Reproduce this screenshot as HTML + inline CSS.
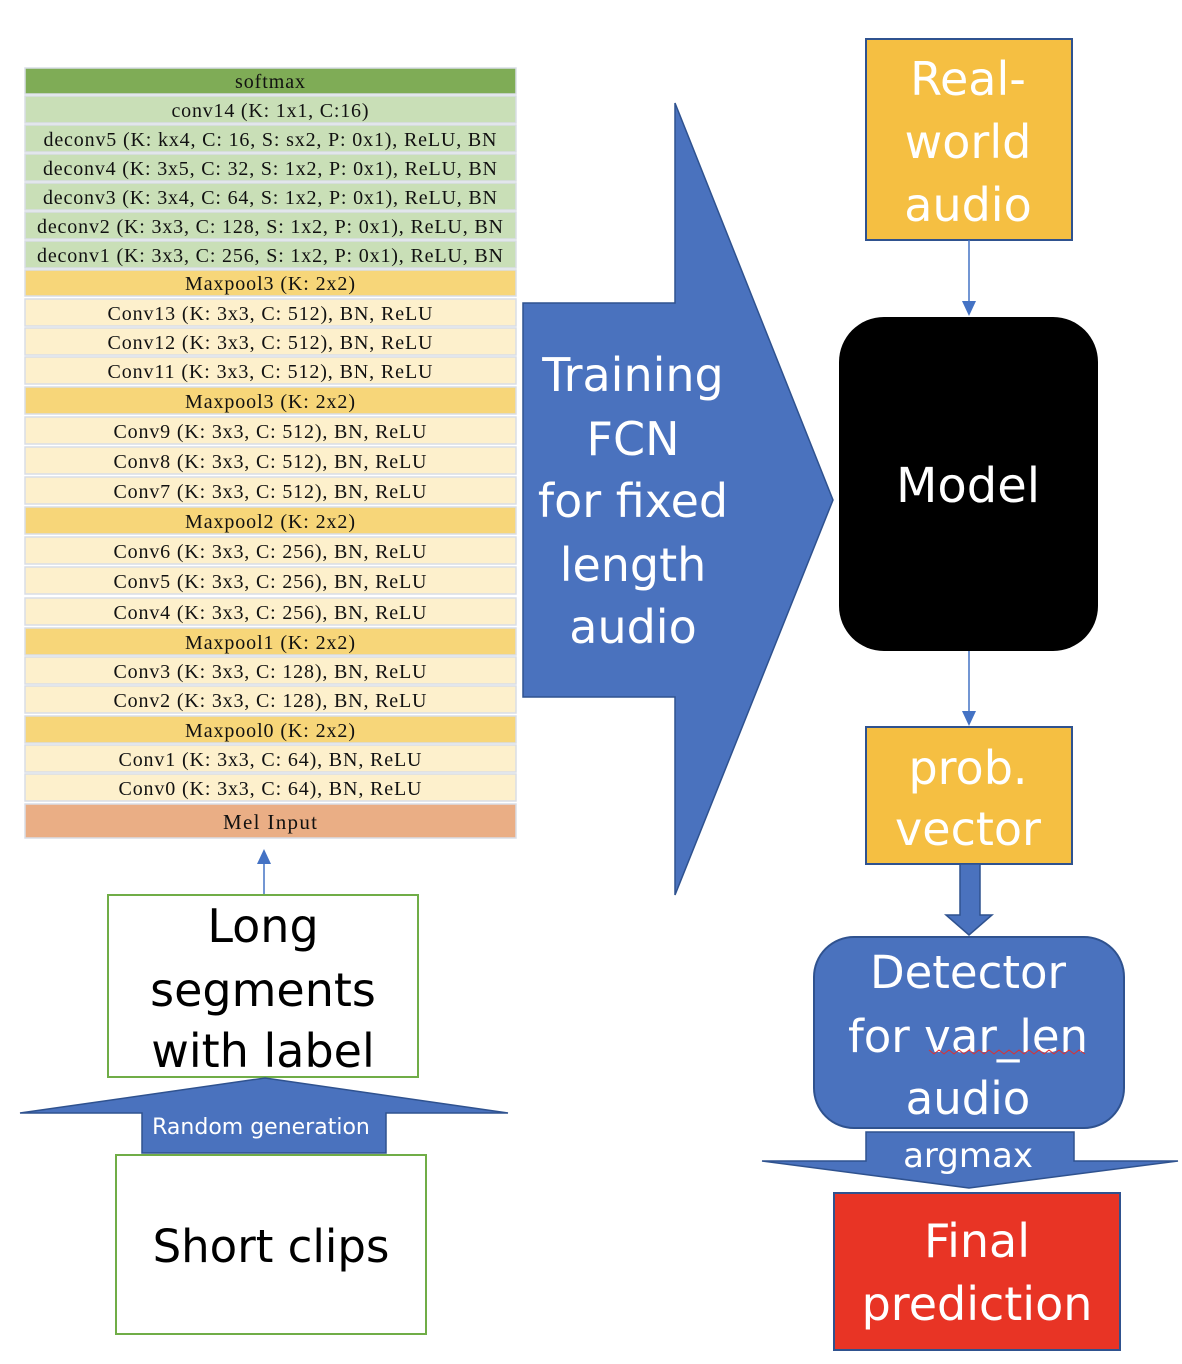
<!DOCTYPE html>
<html><head><meta charset="utf-8"><style>
html,body{margin:0;padding:0;background:#fff;}
svg{display:block;}
.t{font-family:"Liberation Serif",serif;font-size:20px;fill:#111;text-anchor:middle;}
.s{font-family:"DejaVu Sans","Liberation Sans",sans-serif;text-anchor:middle;}
</style></head><body>
<svg width="1182" height="1364" viewBox="0 0 1182 1364" xmlns="http://www.w3.org/2000/svg">
<g stroke="#d9dde6" stroke-width="1.5">
<rect x="25" y="68" width="491" height="26" fill="#7fac56"/>
<rect x="25" y="96" width="491" height="27" fill="#c9dfb7"/>
<rect x="25" y="125" width="491" height="27" fill="#c9dfb7"/>
<rect x="25" y="154" width="491" height="27" fill="#c9dfb7"/>
<rect x="25" y="183" width="491" height="27" fill="#c9dfb7"/>
<rect x="25" y="212" width="491" height="27" fill="#c9dfb7"/>
<rect x="25" y="241" width="491" height="27" fill="#c9dfb7"/>
<rect x="25" y="270" width="491" height="26" fill="#f7d679"/>
<rect x="25" y="299" width="491" height="27" fill="#fdf0cc"/>
<rect x="25" y="328" width="491" height="27" fill="#fdf0cc"/>
<rect x="25" y="357" width="491" height="27" fill="#fdf0cc"/>
<rect x="25" y="387" width="491" height="27" fill="#f7d679"/>
<rect x="25" y="417" width="491" height="27" fill="#fdf0cc"/>
<rect x="25" y="447" width="491" height="27" fill="#fdf0cc"/>
<rect x="25" y="477" width="491" height="27" fill="#fdf0cc"/>
<rect x="25" y="507" width="491" height="27" fill="#f7d679"/>
<rect x="25" y="537" width="491" height="27" fill="#fdf0cc"/>
<rect x="25" y="567" width="491" height="27" fill="#fdf0cc"/>
<rect x="25" y="598" width="491" height="27" fill="#fdf0cc"/>
<rect x="25" y="628" width="491" height="27" fill="#f7d679"/>
<rect x="25" y="657" width="491" height="27" fill="#fdf0cc"/>
<rect x="25" y="686" width="491" height="27" fill="#fdf0cc"/>
<rect x="25" y="716" width="491" height="27" fill="#f7d679"/>
<rect x="25" y="745" width="491" height="27" fill="#fdf0cc"/>
<rect x="25" y="774" width="491" height="27" fill="#fdf0cc"/>
<rect x="25" y="804" width="491" height="34" fill="#eaae85"/>
</g>
<g class="t" lengthAdjust="spacing">
<text x="270" y="88" textLength="70">softmax</text>
<text x="270" y="117" textLength="197">conv14 (K: 1x1, C:16)</text>
<text x="270" y="146" textLength="453">deconv5 (K: kx4, C: 16, S: sx2, P: 0x1), ReLU, BN</text>
<text x="270" y="175" textLength="454">deconv4 (K: 3x5, C: 32, S: 1x2, P: 0x1), ReLU, BN</text>
<text x="270" y="204" textLength="454">deconv3 (K: 3x4, C: 64, S: 1x2, P: 0x1), ReLU, BN</text>
<text x="270" y="233" textLength="466">deconv2 (K: 3x3, C: 128, S: 1x2, P: 0x1), ReLU, BN</text>
<text x="270" y="262" textLength="466">deconv1 (K: 3x3, C: 256, S: 1x2, P: 0x1), ReLU, BN</text>
<text x="270" y="290" textLength="170">Maxpool3 (K: 2x2)</text>
<text x="270" y="320" textLength="325">Conv13 (K: 3x3, C: 512), BN, ReLU</text>
<text x="270" y="349" textLength="325">Conv12 (K: 3x3, C: 512), BN, ReLU</text>
<text x="270" y="378" textLength="325">Conv11 (K: 3x3, C: 512), BN, ReLU</text>
<text x="270" y="408" textLength="170">Maxpool3 (K: 2x2)</text>
<text x="270" y="438" textLength="313">Conv9 (K: 3x3, C: 512), BN, ReLU</text>
<text x="270" y="468" textLength="313">Conv8 (K: 3x3, C: 512), BN, ReLU</text>
<text x="270" y="498" textLength="313">Conv7 (K: 3x3, C: 512), BN, ReLU</text>
<text x="270" y="528" textLength="170">Maxpool2 (K: 2x2)</text>
<text x="270" y="558" textLength="313">Conv6 (K: 3x3, C: 256), BN, ReLU</text>
<text x="270" y="588" textLength="313">Conv5 (K: 3x3, C: 256), BN, ReLU</text>
<text x="270" y="619" textLength="313">Conv4 (K: 3x3, C: 256), BN, ReLU</text>
<text x="270" y="649" textLength="170">Maxpool1 (K: 2x2)</text>
<text x="270" y="678" textLength="313">Conv3 (K: 3x3, C: 128), BN, ReLU</text>
<text x="270" y="707" textLength="313">Conv2 (K: 3x3, C: 128), BN, ReLU</text>
<text x="270" y="737" textLength="170">Maxpool0 (K: 2x2)</text>
<text x="270" y="766" textLength="303">Conv1 (K: 3x3, C: 64), BN, ReLU</text>
<text x="270" y="795" textLength="303">Conv0 (K: 3x3, C: 64), BN, ReLU</text>
<text x="270" y="829" textLength="94" style="font-size:21px">Mel Input</text>
</g>
<!-- big arrow -->
<polygon points="523,303 675,303 675,103 833,500 675,895 675,697 523,697" fill="#4a72be" stroke="#2f528f" stroke-width="1.5"/>
<g class="s" fill="#fff" font-size="46">
<text x="633" y="391">Training</text>
<text x="633" y="455">FCN</text>
<text x="633" y="517">for fixed</text>
<text x="633" y="581">length</text>
<text x="633" y="643">audio</text>
</g>
<!-- left bottom -->
<line x1="264" y1="895" x2="264" y2="862" stroke="#4472c4" stroke-width="1.5"/>
<polygon points="264,849 257,864 271,864" fill="#4472c4"/>
<rect x="108" y="895" width="310" height="182" fill="#fff" stroke="#70ad47" stroke-width="2"/>
<g class="s" fill="#000" font-size="46">
<text x="263" y="942">Long</text>
<text x="263" y="1006">segments</text>
<text x="263" y="1067">with label</text>
</g>
<polygon points="265,1078 508,1113 386,1113 386,1153 142,1153 142,1113 20,1113" fill="#4a72be" stroke="#2f528f" stroke-width="1.5"/>
<text class="s" x="261" y="1134" fill="#fff" font-size="22">Random generation</text>
<rect x="116" y="1155" width="310" height="179" fill="#fff" stroke="#70ad47" stroke-width="2"/>
<text class="s" x="271" y="1262" fill="#000" font-size="45">Short clips</text>
<!-- right -->
<rect x="866" y="39" width="206" height="201" fill="#f5bf42" stroke="#2f528f" stroke-width="2"/>
<g class="s" fill="#fff" font-size="46">
<text x="968" y="95">Real-</text>
<text x="968" y="158">world</text>
<text x="968" y="221">audio</text>
</g>
<line x1="969" y1="240" x2="969" y2="303" stroke="#4472c4" stroke-width="1.5"/>
<polygon points="969,316 962,301 976,301" fill="#4472c4"/>
<rect x="839" y="317" width="259" height="334" rx="45" fill="#000"/>
<text class="s" x="968" y="502" fill="#fff" font-size="48">Model</text>
<line x1="969" y1="651" x2="969" y2="713" stroke="#4472c4" stroke-width="1.5"/>
<polygon points="969,726 962,711 976,711" fill="#4472c4"/>
<rect x="866" y="727" width="206" height="137" fill="#f5bf42" stroke="#2f528f" stroke-width="2"/>
<g class="s" fill="#fff" font-size="46">
<text x="968" y="784">prob.</text>
<text x="968" y="845">vector</text>
</g>
<polygon points="960,864 980,864 980,915 992,915 969,935 946,915 960,915" fill="#4a72be" stroke="#2f528f" stroke-width="1.5"/>
<rect x="814" y="937" width="310" height="191" rx="40" fill="#4a72be" stroke="#2f528f" stroke-width="2"/>
<g class="s" fill="#fff" font-size="45">
<text x="968" y="988">Detector</text>
<text x="968" y="1052">for var_len</text>
<text x="968" y="1114">audio</text>
</g>
<polyline points="929,1050 934,1054 939,1050 944,1054 949,1050 954,1054 959,1050 964,1054 969,1050 974,1054 979,1050 984,1054 989,1050 994,1054 999,1050 1004,1054 1009,1050 1014,1054 1019,1050 1024,1054 1029,1050 1034,1054 1039,1050 1044,1054 1049,1050 1054,1054 1059,1050 1064,1054 1069,1050 1074,1054 1079,1050 1085,1054" fill="none" stroke="#e03030" stroke-width="1"/>
<polygon points="866,1132 1074,1132 1074,1161 1178,1161 969,1188 762,1161 866,1161" fill="#4a72be" stroke="#2f528f" stroke-width="1.5"/>
<text class="s" x="968" y="1167" fill="#fff" font-size="34">argmax</text>
<rect x="834" y="1193" width="286" height="157" fill="#e83425" stroke="#2f528f" stroke-width="2"/>
<g class="s" fill="#fff" font-size="46">
<text x="977" y="1257">Final</text>
<text x="977" y="1320">prediction</text>
</g>
</svg>
</body></html>
